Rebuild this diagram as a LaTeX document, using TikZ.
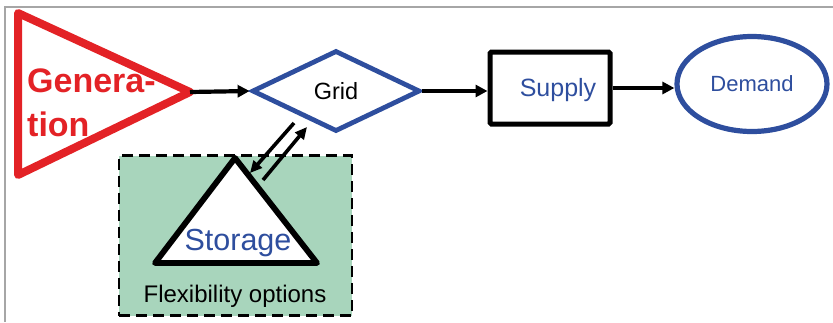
\documentclass[tikz,border=0pt]{standalone}
\usepackage{fontspec}
\setmainfont{Liberation Sans}
\usetikzlibrary{shapes.geometric,arrows.meta}
\definecolor{gred}{HTML}{E32226}
\definecolor{gblue}{HTML}{2E4E9E}
\definecolor{flexgreen}{HTML}{A8D5BC}
\tikzset{
  conn/.style={line width=4.2pt,-{Triangle[length=12pt,width=12pt]}},
  thinconn/.style={line width=3.6pt,-{Triangle[length=12pt,width=11pt]}},
}
\begin{document}
\begin{tikzpicture}[x=1pt,y=-1pt]
\useasboundingbox (0,0) rectangle (833,322);
\draw[gray!70,line width=1.5pt] (5,322) -- (5,7) -- (833,7);
% flexibility box
\node[draw,dashed,dash pattern=on 11pt off 6pt,line width=2.8pt,fill=flexgreen,
      minimum width=233pt,minimum height=160pt,inner sep=0pt] (flex) at (235.5,235.5) {};
\node[font=\fontsize{24}{24}\selectfont] (flexlbl) at (235,296) {Flexibility options};
% storage triangle
\coordinate (sa) at (235,158);
\coordinate (sl) at (155,263);
\coordinate (sr) at (317,263);
\draw[line width=5.8pt,line join=round,fill=white] (sa) -- (sl) -- (sr) -- cycle;
\node[text=gblue,font=\fontsize{30.5}{30.5}\selectfont] (storage) at (238,243) {Storage};
% generation triangle
\coordinate (ga) at (18,13);
\coordinate (gb) at (18,175);
\coordinate (gtip) at (190,92);
\draw[gred,line width=8pt,line join=round] (ga) -- (gtip) -- (gb) -- cycle;
\node[text=gred,font=\bfseries\fontsize{34}{44}\selectfont,align=left,anchor=west,inner sep=0pt] (gen) at (27,103) {Genera-\\tion};
% grid
\node[draw=gblue,line width=4.8pt,diamond,minimum width=168pt,minimum height=81pt,inner sep=0pt,
      font=\fontsize{23.5}{23.5}\selectfont] (grid) at (336,91) {Grid};
% supply
\node[draw,line width=5pt,rounded corners=1.5pt,minimum width=120pt,minimum height=72pt,inner sep=0pt] (supply) at (550,88) {};
\node[text=gblue,font=\fontsize{25}{25}\selectfont] (supplylbl) at (558,90) {Supply};
% demand
\node[draw=gblue,line width=5.2pt,ellipse,minimum width=150pt,minimum height=95pt,inner sep=0pt,
      text=gblue,font=\fontsize{22}{22}\selectfont] (demand) at (752,84) {Demand};
% connectors
\draw[conn] (gtip) -- (grid.west);
\draw[conn] (grid.east) -- (supply.west |- grid.east);
\draw[conn] (supply.east |- 0,88) -- (demand.west |- 0,88);
\coordinate (s1a) at (294,123);
\coordinate (s1b) at (250,173);
\coordinate (s2a) at (263,180);
\coordinate (s2b) at (307,127);
\draw[thinconn] (s1a) -- (s1b);
\draw[thinconn] (s2a) -- (s2b);
\end{tikzpicture}
\end{document}
